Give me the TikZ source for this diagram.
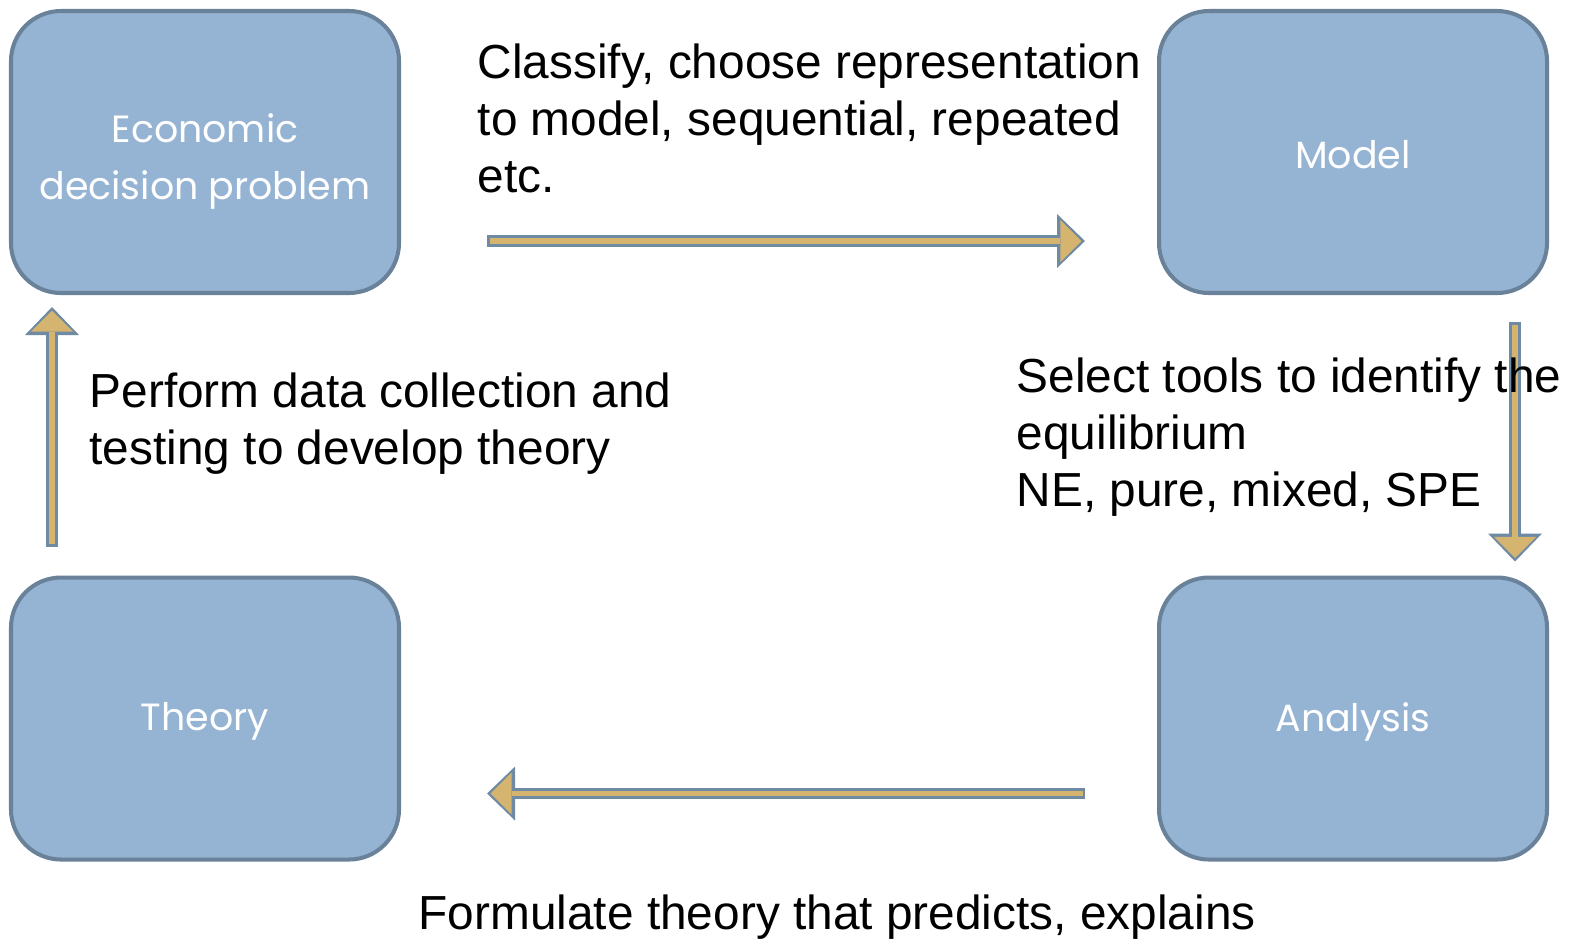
\documentclass[tikz,border=0pt]{standalone}
\usepackage{fontspec}
\setmainfont{Liberation Sans}
\newfontfamily\boxfont{Poppins}
\usepackage{xcolor}
\definecolor{BoxBlue}{HTML}{95B3D3}
\definecolor{BoxEdge}{HTML}{6A8299}
\definecolor{ArrowTan}{HTML}{D4B46E}
\definecolor{ArrowEdge}{HTML}{6F8AA3}
\usepackage{tikz}
\usetikzlibrary{arrows.meta, calc}

\newcommand{\sinktext}[2]{\raisebox{-#1}[\height][\depth]{#2}}

\tikzset{
  stage/.style={draw=BoxEdge, fill=BoxBlue, line width=1.15pt, rounded corners=0.5cm,
    minimum width=3.88cm, minimum height=2.82cm, align=center, text=white,
    font=\boxfont\fontsize{10.8pt}{16.2pt}\selectfont},
  caption/.style={anchor=north west, inner sep=0pt, align=left,
    font=\fontsize{13.6pt}{16.2pt}\selectfont},
  flowout/.style={ArrowEdge, line width=0.115cm,
    -{Triangle[length=0.28cm, width=0.54cm, line width=0pt]}},
  flowin/.style={ArrowTan, line width=0.055cm, shorten <=0.025cm, shorten >=0.035cm,
    -{Triangle[length=0.21cm, width=0.42cm, line width=0pt]}}
}

\begin{document}
\begin{tikzpicture}
  \useasboundingbox (0,0) rectangle (15.77,-9.43);

  % Stages
  \node[stage] (econ) at (2.05,-1.52)
    {\sinktext{0.08cm}{\begin{tabular}{@{}c@{}}Economic\\decision problem\end{tabular}}};
  \node[stage] (model) at (13.53,-1.52) {\sinktext{0.03cm}{Model}};
  \node[stage] (analysis) at (13.53,-7.185) {\sinktext{0.03cm}{Analysis}};
  \node[stage] (theory) at (2.05,-7.185) {\sinktext{0.03cm}{Theory}};

  % Arrow ends
  \coordinate (a1s) at ($(econ.east)+(0.86,-0.89)$);
  \coordinate (a1e) at ($(model.west)+(-0.72,-0.89)$);
  \coordinate (a2s) at ($(model.south)+(1.62,-0.27)$);
  \coordinate (a2e) at ($(analysis.north)+(1.62,0.14)$);
  \coordinate (a3s) at ($(analysis.west)+(-0.72,-0.75)$);
  \coordinate (a3e) at ($(theory.east)+(0.86,-0.75)$);
  \coordinate (a4s) at ($(theory.north)+(-1.53,0.29)$);
  \coordinate (a4e) at ($(econ.south)+(-1.53,-0.12)$);

  % Arrows
  \foreach \s/\e in {a1s/a1e, a2s/a2e, a3s/a3e, a4s/a4e} {
    \draw[flowout] (\s) -- (\e);
    \draw[flowin] (\s) -- (\e);
  }

  % Captions
  \node[caption] (t1) at (4.77,-0.43) {Classify, choose representation\\to model, sequential, repeated\\etc.};
  \node[caption] (t2) at (10.16,-3.57) {Select tools to identify the\\equilibrium\\NE, pure, mixed, SPE};
  \node[caption] (t3) at (4.18,-8.94) {Formulate theory that predicts, explains};
  \node[caption] (t4) at (0.89,-3.72) {Perform data collection and\\testing to develop theory};
\end{tikzpicture}
\end{document}
